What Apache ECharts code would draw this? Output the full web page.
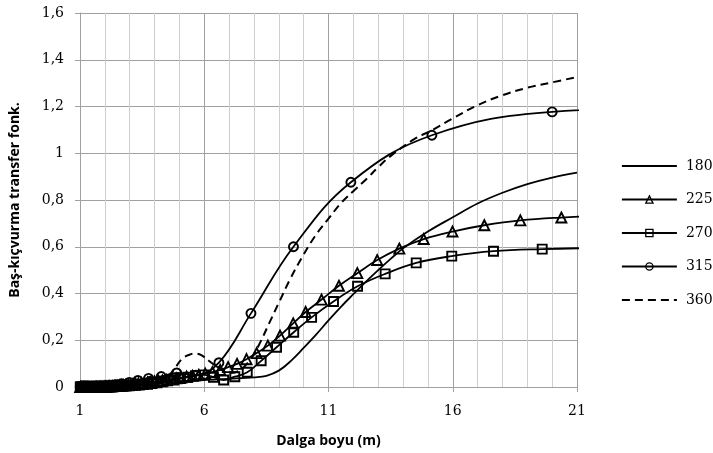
<!DOCTYPE html>
<html>
<head>
<meta charset="utf-8">
<script src="https://cdn.jsdelivr.net/npm/echarts@6/dist/echarts.min.js"></script>
<style>
  html, body { margin: 0; padding: 0; background: #fff; }
  #chart { width: 713px; height: 453px; }
</style>
</head>
<body>
<div id="chart"></div>
<script>
'use strict'

// [dalga boyu, değer] pairs
var s180 = [[1,0],[1.5,0.001],[2,0.003],[2.5,0.005],[3,0.008],[3.5,0.011],[4,0.015],[4.5,0.019],[5,0.023],[5.5,0.027],
  [6,0.03],[6.5,0.033],[7,0.035],[7.5,0.038],[8,0.041],[8.5,0.048],[9,0.07],[9.5,0.113],[10,0.167],[10.5,0.224],
  [11,0.285],[11.5,0.343],[12,0.397],[12.5,0.45],[13,0.5],[13.5,0.548],[14,0.593],[15,0.665],[16,0.726],[17,0.785],
  [18,0.831],[19,0.868],[20,0.896],[21,0.917]];

var s225 = [[22.2,0.733],[20.37,0.725],[18.72,0.713],[17.27,0.692],[15.99,0.665],[14.83,0.633],[13.85,0.592],[12.96,0.543],
  [12.16,0.487],[11.42,0.433],[10.72,0.374],[10.08,0.321],[9.58,0.272],[9.05,0.22],[8.56,0.177],[8.11,0.145],[7.7,0.119],
  [7.32,0.099],[6.96,0.085],[6.64,0.073],[6.33,0.064],[6.04,0.057],[5.78,0.052],[5.53,0.048],[5.29,0.044],[5.07,0.04],
  [4.87,0.037],[4.68,0.034],[4.49,0.031],[4.32,0.028],[4.16,0.026],[4.0,0.024],[3.86,0.022],[3.72,0.02],[3.59,0.018],
  [3.47,0.016],[3.35,0.015],[3.24,0.013],[3.13,0.012],[3.03,0.011],[2.94,0.01],[2.85,0.009],[2.76,0.008],[2.68,0.007],
  [2.6,0.006],[2.52,0.006],[2.45,0.005],[2.38,0.004],[2.31,0.004],[2.25,0.003],[2.19,0.003],[2.13,0.003],[2.07,0.002],
  [2.02,0.002],[1.97,0.002],[1.92,0.002],[1.87,0.001],[1.82,0.001],[1.78,0.001],[1.73,0.001],[1.69,0.001],[1.65,0.001],
  [1.61,0.001],[1.57,0],[1.54,0],[1.5,0],[1.47,0],[1.44,0],[1.4,0],[1.37,0],[1.34,0],[1.31,0],[1.29,0],[1.26,0],[1.23,0],
  [1.21,0],[1.18,0],[1.16,0],[1.14,0],[1.12,0],[1.09,0],[1.07,0],[1.05,0],[1.03,0],[1.01,0]];

var s270 = [[21.9,0.595],[19.6,0.59],[17.64,0.581],[15.96,0.56],[14.53,0.531],[13.28,0.484],[12.17,0.431],[11.2,0.366],
  [10.32,0.298],[9.6,0.234],[8.91,0.17],[8.29,0.112],[7.73,0.063],[7.23,0.044],[6.78,0.03],[6.37,0.042],[5.99,0.052],
  [5.65,0.048],[5.34,0.042],[5.04,0.036],[4.78,0.03],[4.53,0.026],[4.31,0.022],[4.1,0.018],[3.9,0.015],[3.72,0.012],
  [3.55,0.01],[3.39,0.008],[3.24,0.007],[3.11,0.006],[2.98,0.005],[2.85,0.004],[2.74,0.003],[2.63,0.003],[2.53,0.002],
  [2.44,0.002],[2.35,0.001],[2.27,0.001],[2.19,0.001],[2.11,0],[2.04,0],[1.97,0],[1.9,0],[1.84,0],[1.78,0],[1.72,0],
  [1.67,0],[1.62,0],[1.57,0],[1.52,0],[1.48,0],[1.43,0],[1.39,0],[1.35,0],[1.31,0],[1.28,0],[1.24,0],[1.21,0],[1.18,0],
  [1.15,0],[1.12,0],[1.09,0],[1.06,0],[1.03,0],[1.01,0]];

var s315 = [[27.5,1.2],[20.0,1.177],[15.16,1.077],[11.9,0.876],[9.59,0.6],[7.88,0.315],[6.59,0.104],[5.66,0.05],
  [4.89,0.06],[4.27,0.045],[3.76,0.037],[3.33,0.028],[2.98,0.02],[2.67,0.014],[2.42,0.01],[2.19,0.008],[2.0,0.006],
  [1.83,0.005],[1.68,0.004],[1.55,0.003],[1.44,0.002],[1.33,0.002],[1.24,0.001],[1.16,0.001],[1.08,0],[1.01,0]];

var s360 = [[1,0],[1.5,0.001],[2,0.003],[2.5,0.006],[3,0.01],[3.5,0.02],[3.85,0.045],[4.2,0.035],[4.5,0.045],[4.75,0.07],
  [5.1,0.12],[5.4,0.138],[5.65,0.143],[5.9,0.135],[6.25,0.107],[6.6,0.08],[7.0,0.06],[7.4,0.07],[7.8,0.11],[8.2,0.18],
  [8.6,0.27],[9.0,0.36],[9.45,0.46],[9.92,0.552],[10.45,0.644],[11,0.72],[11.53,0.79],[12.07,0.845],[12.53,0.89],
  [13.0,0.94],[13.52,0.99],[14.45,1.06],[15.19,1.1],[15.93,1.145],[16.99,1.205],[17.92,1.245],[18.99,1.28],[19.99,1.303],
  [21,1.326]];

var seriesNames = ['180', '225', '270', '315', '360'];
var xTicks = { min: 1, max: 21, step: 5 };
var yTicks = { min: 0, max: 1.6, step: 0.2 };

var tickFont = 'DejaVu Serif';
var titleFont = 'Open Sans';

function lineSeries(name, data, symbol, dashed) {
  return {
    name: name,
    type: 'line',
    data: data,
    smooth: 0.4,
    clip: true,
    symbol: symbol || 'none',
    showSymbol: !!symbol,
    symbolSize: symbol === 'triangle' ? 10 : 9,
    lineStyle: { color: '#000', width: dashed ? 2 : 1.8, type: dashed ? [8, 5] : 'solid' },
    itemStyle: { color: 'rgba(0,0,0,0)', borderColor: '#000', borderWidth: 1.9 },
    emphasis: { disabled: true },
    z: 3
  };
}

// legend marks: hollow symbol on a black line, none for plain lines
function legendItem(name, hasSymbol) {
  return {
    name: name,
    itemStyle: hasSymbol
      ? { color: 'rgba(0,0,0,0)', borderColor: '#000', borderWidth: 1.3 }
      : { color: 'rgba(0,0,0,0)', borderColor: 'rgba(0,0,0,0)', borderWidth: 0 }
  };
}

var chart = echarts.init(document.getElementById('chart'), null, { renderer: 'canvas' });
var option = {
  animation: false,
  backgroundColor: '#fff',
  grid: { left: 77, right: 136, top: 13, bottom: 63 },
  legend: {
    orient: 'vertical',
    left: 621,
    top: 159,
    padding: 0,
    itemWidth: 55,
    itemHeight: 9,
    itemGap: 19.5,
    data: seriesNames.map(function (n, i) { return legendItem(n, i > 0 && i < 4); }),
    lineStyle: { color: '#000', width: 1.8 },
    textStyle: { fontFamily: tickFont, fontSize: 14, color: '#000', padding: [0, 0, 0, 4] }
  },
  xAxis: {
    type: 'value',
    min: xTicks.min,
    max: xTicks.max,
    interval: xTicks.step,
    name: 'Dalga boyu (m)',
    nameLocation: 'middle',
    nameGap: 47,
    nameTextStyle: { fontFamily: titleFont, fontWeight: 'bold', fontSize: 14, color: '#000' },
    axisLine: { show: true, lineStyle: { color: '#a0a0a0', width: 1 } },
    axisTick: { show: true, length: 5, lineStyle: { color: '#a0a0a0' } },
    axisLabel: { fontFamily: tickFont, fontSize: 14, color: '#000', margin: 17 },
    splitLine: { show: true, lineStyle: { color: '#a0a0a0', width: 1 } },
    minorTick: { show: false, splitNumber: 5 },
    minorSplitLine: { show: true, lineStyle: { color: '#cfcfcf', width: 1 } }
  },
  yAxis: {
    type: 'value',
    min: yTicks.min,
    max: yTicks.max,
    interval: yTicks.step,
    name: 'Baş-kıçvurma transfer fonk.',
    nameLocation: 'middle',
    nameGap: 58,
    nameTextStyle: { fontFamily: titleFont, fontWeight: 'bold', fontSize: 14, color: '#000' },
    axisLine: { show: true, lineStyle: { color: '#a0a0a0', width: 1 } },
    axisTick: { show: true, length: 5, lineStyle: { color: '#a0a0a0' } },
    axisLabel: {
      fontFamily: tickFont, fontSize: 14, color: '#000', margin: 16,
      formatter: function (v) { return String(Math.round(v * 10) / 10).replace('.', ','); }
    },
    splitLine: { show: true, lineStyle: { color: '#a0a0a0', width: 1 } }
  },
  series: [
    lineSeries('180', s180, null, false),
    lineSeries('225', s225, 'triangle', false),
    lineSeries('270', s270, 'rect', false),
    lineSeries('315', s315, 'circle', false),
    lineSeries('360', s360, null, true)
  ]
};
chart.setOption(option);
</script>
</body>
</html>
